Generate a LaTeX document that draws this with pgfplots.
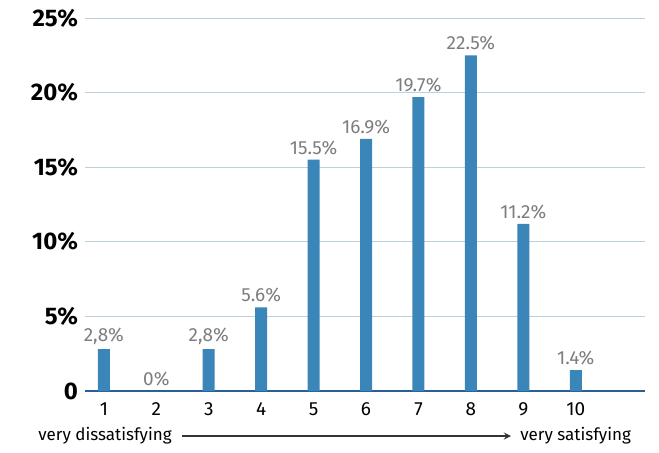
\documentclass[border=0pt]{standalone}
\usepackage{pgfplots}
\pgfplotsset{compat=1.18}
\usepackage{fontspec}
\setmainfont{Fira Sans}
\definecolor{barblue}{RGB}{58,134,185}
\definecolor{gridc}{RGB}{190,208,220}
\definecolor{axisblue}{RGB}{40,95,155}
\definecolor{lblgrey}{RGB}{125,125,125}
\begin{document}
\begin{tikzpicture}
\path[use as bounding box] (-42.5pt,-30.5pt) rectangle (287pt,195.5pt);
\begin{axis}[
  at={(0,0)}, anchor=south west, scale only axis,
  width=280pt, height=186.5pt,
  xmin=0.64, xmax=11.32, ymin=0, ymax=25,
  ytick={0,5,10,15,20,25},
  yticklabels={0,5\%,10\%,15\%,20\%,25\%},
  yticklabel style={font=\bfseries\fontsize{12}{12}\selectfont, black},
  xtick={1,2,3,4,5,6,7,8,9,10},
  xticklabels={1,2,3,4,5,6,7,8,9,10},
  xticklabel style={font=\fontsize{9.5}{10}\selectfont, black, yshift=-2.5pt},
  major tick length=0pt,
  ymajorgrids, grid style={gridc, line width=0.5pt},
  extra y ticks={0}, extra y tick labels={},
  extra y tick style={grid style={axisblue, line width=1pt}},
  axis line style={draw=none},
  ybar, bar width=6pt,
  nodes near coords={\pgfplotspointmeta\%},
  point meta=explicit symbolic,
  nodes near coords style={font=\fontsize{9.5}{10}\selectfont, lblgrey, yshift=-1pt},
  clip=false,
]
\addplot[fill=barblue, draw=none] table[meta=lbl] {
x y lbl
1 2.8 2,8
2 0 0
3 2.8 2,8
4 5.6 5.6
5 15.5 15.5
6 16.9 16.9
7 19.7 19.7
8 22.5 22.5
9 11.2 11.2
10 1.4 1.4
};
\end{axis}
\node[anchor=west, font=\fontsize{8.5}{9}\selectfont, inner sep=0pt] at (-23.5pt,-22.5pt) {very dissatisfying};
\draw[-stealth, line width=0.6pt, black!80] (48.5pt,-22.5pt) -- (213pt,-22.5pt);
\node[anchor=west, font=\fontsize{8.5}{9}\selectfont, inner sep=0pt] at (217.5pt,-22.5pt) {very satisfying};
\end{tikzpicture}
\end{document}
